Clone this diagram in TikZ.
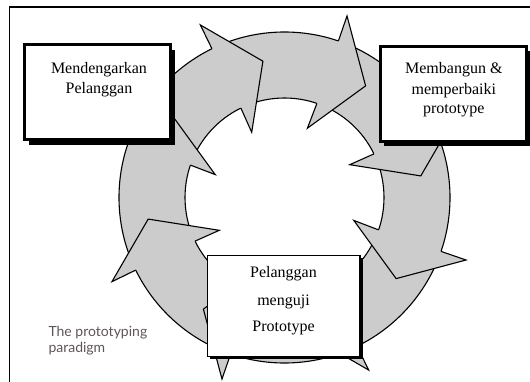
\documentclass[tikz,border=0pt]{standalone}
\usepackage{fontspec}
\setmainfont{Liberation Serif}
\newfontfamily\capfont{Lato}
\usetikzlibrary{shadows}
\definecolor{ringgray}{RGB}{204,204,204}
\definecolor{capgray}{RGB}{95,85,85}
\tikzset{
  ringline/.style={draw=black, line width=1.1pt, line join=miter},
  bigbox/.style={draw=black, fill=white, line width=3pt, inner sep=0pt,
    minimum width=146pt, minimum height=95pt,
    drop shadow={shadow xshift=4pt, shadow yshift=-5pt, fill=black, opacity=1}},
  smallbox/.style={draw=black, fill=white, line width=1.5pt, inner sep=0pt,
    minimum width=152.5pt, minimum height=101pt,
    drop shadow={shadow xshift=2.5pt, shadow yshift=-2.5pt, fill=black, opacity=1}},
  boxtext/.style={anchor=base, inner sep=0pt, font=\fontsize{16}{18}\selectfont},
  captext/.style={anchor=base west, inner sep=0pt, text=capgray, font=\capfont\fontsize{14}{16}\selectfont}
}
\begin{document}
\begin{tikzpicture}[x=1pt,y=1pt]
\useasboundingbox (0,0) rectangle (530,381);
% frame
\draw[line width=1.2pt] (9.5,-2) -- (9.5,374) -- (532,374);
% ring
\begin{scope}[shift={(284.5,183.5)}]
  \fill[ringgray, even odd rule] (0,0) circle[radius=165.5] (0,0) circle[radius=99.5];
  \draw[ringline] (0,0) circle[radius=165.5];
  \draw[ringline] (0,0) circle[radius=99.5];
  \foreach \b in {116,71,26,-19,-64,-109,-154,-199}{
    \fill[ringgray] (\b:165.5) -- (\b:192) -- (\b-17:138) -- (\b+0.7:73) -- (\b:99.5) -- cycle;
    \draw[ringline] (\b:165.5) -- (\b:192) -- (\b-17:138) -- (\b+0.7:73) -- (\b:99.5);
  }
\end{scope}
% boxes
\node[bigbox] (listen) at (97.9,288.6) {};
\node[bigbox] (build) at (453.2,287.3) {};
\node[smallbox] (test) at (283.75,74.8) {};
% texts
\node[boxtext] (l1) at (99,307.5) {Mendengarkan};
\node[boxtext] (l2) at (99,287.5) {Pelanggan};
\node[boxtext] (b1) at (453.8,307) {Membangun \&};
\node[boxtext] (b2) at (453.8,286.7) {memperbaiki};
\node[boxtext] (b3) at (453.8,267.5) {prototype};
\node[boxtext] (t1) at (283.5,103.5) {Pelanggan};
\node[boxtext] (t2) at (283.5,75.5) {menguji};
\node[boxtext] (t3) at (283.5,49.5) {Prototype};
\node[captext] (c1) at (48.3,44.3) {The prototyping};
\node[captext] (c2) at (48.3,28.7) {paradigm};
\end{tikzpicture}
\end{document}
